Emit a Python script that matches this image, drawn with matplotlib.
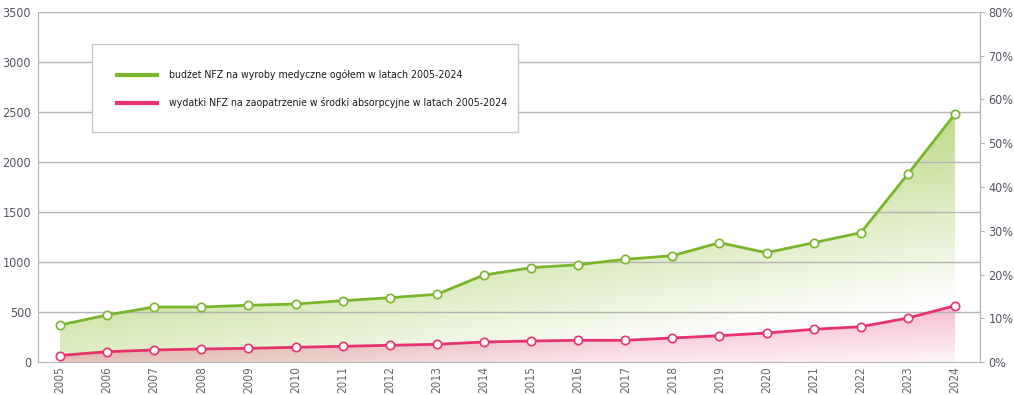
import numpy as np
import matplotlib
matplotlib.use("Agg")
import matplotlib.pyplot as plt
from matplotlib.patches import Polygon, Rectangle
from matplotlib.lines import Line2D

# dane
lata = [str(r) for r in range(2005, 2025)]
budzet = [370, 470, 550, 550, 567, 580, 613, 643, 677, 870,
          943, 973, 1027, 1063, 1193, 1093, 1193, 1293, 1880, 2480]
wydatki = [65, 103, 120, 130, 137, 147, 157, 167, 177, 200,
           210, 217, 217, 240, 263, 290, 327, 353, 440, 563]
etykiety = ["budżet NFZ na wyroby medyczne ogółem w latach 2005-2024",
            "wydatki NFZ na zaopatrzenie w środki absorpcyjne w latach 2005-2024"]

plt.rcParams['font.family'] = ['DejaVu Sans']
plt.rcParams['font.stretch'] = 'condensed'

zielony = "#7ab62c"
rozowy = "#e6336f"
siatka = "#b4b4b4"

W, H = 1014, 395
fig = plt.figure(figsize=(W / 100, H / 100), dpi=100)
ax = fig.add_axes([38 / W, 1 - 362 / H, (980 - 38) / W, (362 - 12) / H])
x = np.arange(len(lata))
ax.set_xlim(-0.467, 19.53)
ax.set_ylim(0, 3500)
xl = ax.get_xlim()

# gradient zielony (po przekątnej)
nx, ny = 300, 300
gx, gy = np.meshgrid(np.linspace(0, 1, nx), np.linspace(0, 1, ny))
s = np.clip((gy - 0.445 * gx + 0.255) / 0.51, 0, 1)
img = np.ones((ny, nx, 4))
c1 = np.array(matplotlib.colors.to_rgb("#c0dc8e"))
for k in range(3):
    img[..., k] = 1 - s * (1 - c1[k])
im = ax.imshow(img, extent=[xl[0], xl[1], 0, 3500], origin='lower', aspect='auto', zorder=1)
verts = np.vstack([np.column_stack([x, budzet]), [[x[-1], 0], [x[0], 0]]])
p1 = Polygon(verts, closed=True, facecolor='none', edgecolor='none', transform=ax.transData)
ax.add_patch(p1)
im.set_clip_path(p1)

# gradient rozowy
a2 = np.clip(0.3 + 0.35 * (gy / 0.16) - 0.25 * gx, 0.03, 0.6)
img2 = np.zeros((ny, nx, 4))
img2[..., :3] = matplotlib.colors.to_rgb("#e8588a")
img2[..., 3] = a2
im2 = ax.imshow(img2, extent=[xl[0], xl[1], 0, 3500], origin='lower', aspect='auto', zorder=2)
verts2 = np.vstack([np.column_stack([x, wydatki]), [[x[-1], 0], [x[0], 0]]])
p2 = Polygon(verts2, closed=True, facecolor='none', edgecolor='none', transform=ax.transData)
ax.add_patch(p2)
im2.set_clip_path(p2)

for yv in range(500, 3501, 500):
    ax.axhline(yv, color=siatka, lw=1, zorder=3)

ax.plot(x, budzet, color=zielony, lw=2, marker='o', ms=6, mfc='white', mec=zielony, mew=1.2, zorder=4)
ax.plot(x, wydatki, color=rozowy, lw=2, marker='o', ms=6, mfc='white', mec=rozowy, mew=1.2, zorder=4)

ax.set_yticks(range(0, 3501, 500))
ax.set_xticks(x)
ax.set_xticklabels(lata, rotation=90, fontsize=8.5, color="#666670")
ax.tick_params(axis='y', length=0, labelsize=9, labelcolor="#555566", pad=5)
ax.tick_params(axis='x', length=0, pad=3)
for sp in ax.spines.values():
    sp.set_color(siatka)
ax.spines['top'].set_visible(False)

ax2 = ax.twinx()
ax2.set_ylim(0, 0.8)
ax2.set_yticks(np.arange(0, 0.81, 0.1))
ax2.set_yticklabels([f"{int(round(v * 100))}%" for v in np.arange(0, 0.81, 0.1)])
ax2.tick_params(axis='y', length=3, color=siatka, labelsize=9, labelcolor="#555566", pad=3)
for sp in ax2.spines.values():
    sp.set_visible(False)
ax2.spines['right'].set_visible(True)
ax2.spines['right'].set_color(siatka)

# legenda
fig.patches.append(Rectangle((92 / W, 1 - 132 / H), (518 - 92) / W, (132 - 44) / H,
                             transform=fig.transFigure, facecolor='white', edgecolor="#c8c8c8",
                             lw=1, zorder=5))
for yy, col, lab in [(75, zielony, etykiety[0]), (103, rozowy, etykiety[1])]:
    fig.lines.append(Line2D([117 / W, 157 / W], [1 - yy / H] * 2, transform=fig.transFigure,
                            color=col, lw=3, zorder=6))
    fig.text(169 / W, 1 - yy / H, lab, fontsize=7.6, color="#1a1a1a", va='center', zorder=6)

fig.savefig("out.png", dpi=100)
